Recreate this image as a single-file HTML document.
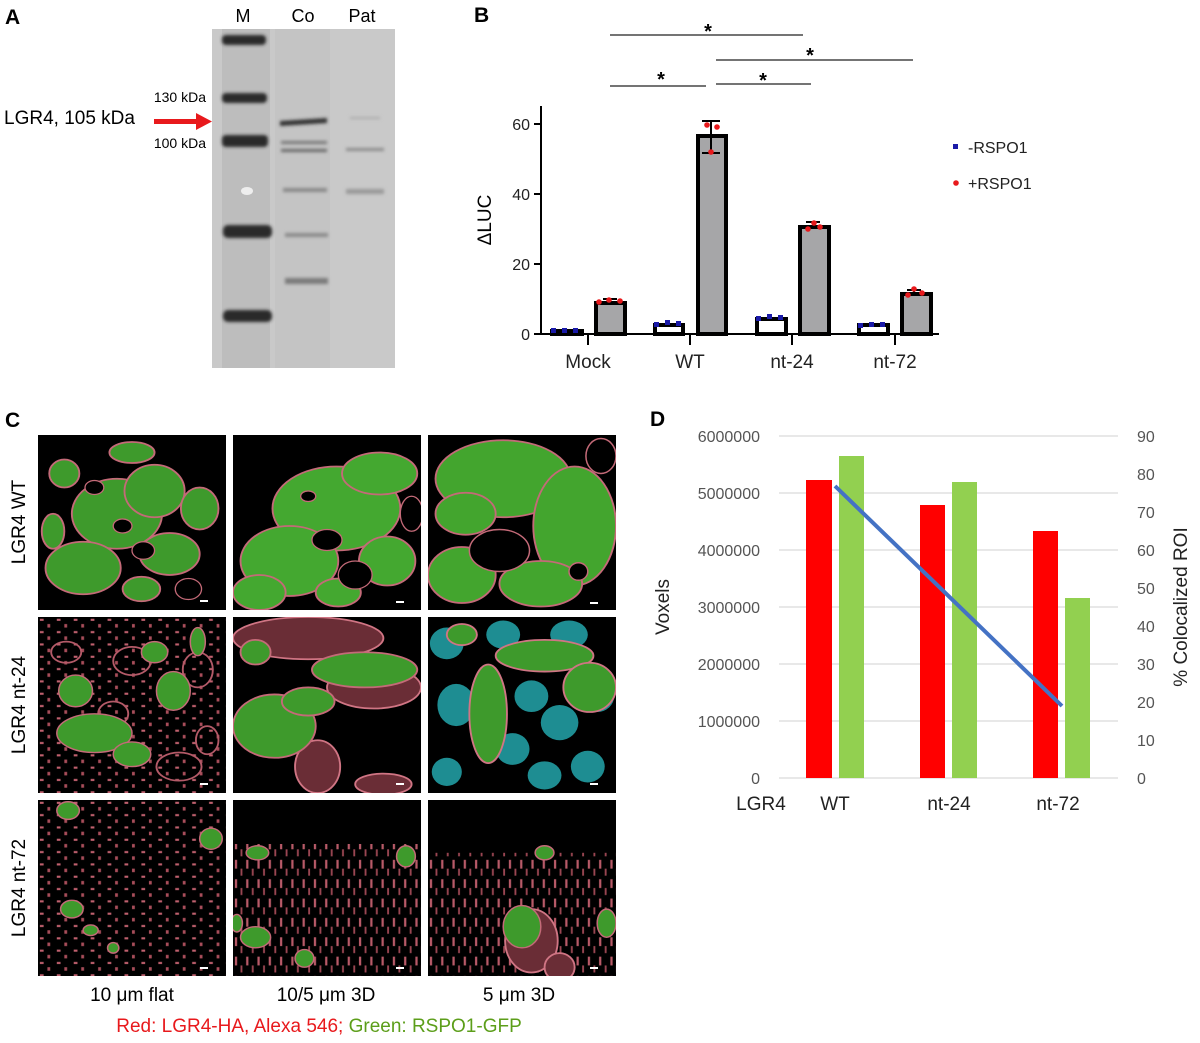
<!DOCTYPE html>
<html><head><meta charset="utf-8"><style>
html,body{margin:0;padding:0;background:#fff;}
svg{display:block;font-family:"Liberation Sans",Arial,sans-serif;}
</style></head><body>
<svg width="1200" height="1043" viewBox="0 0 1200 1043" xmlns="http://www.w3.org/2000/svg">
<defs>
<filter id="bl" x="-20%" y="-50%" width="140%" height="200%"><feGaussianBlur stdDeviation="1.5"/></filter>
<filter id="bl2"><feGaussianBlur stdDeviation="0.6"/></filter>
<pattern id="pk" width="9" height="7" patternUnits="userSpaceOnUse">
<rect width="9" height="7" fill="#000"/>
<rect x="1" y="1" width="2" height="1.2" fill="#c0606e"/><rect x="5" y="4" width="1.5" height="2" fill="#a84d5a"/>
</pattern>
<pattern id="pk2" width="6" height="11" patternUnits="userSpaceOnUse">
<rect width="6" height="11" fill="#000"/>
<rect x="1" y="1" width="1.2" height="5" fill="#b85a68"/><rect x="4" y="6" width="1" height="4" fill="#9a4652"/>
</pattern>
</defs>

<!-- Panel A -->
<text x="5" y="24" font-size="21" font-weight="bold">A</text>
<text x="243" y="22" font-size="18" text-anchor="middle">M</text>
<text x="303" y="22" font-size="18" text-anchor="middle">Co</text>
<text x="362" y="22" font-size="18" text-anchor="middle">Pat</text>
<rect x="212" y="29" width="183" height="339" fill="#c9c9c9"/>
<rect x="222" y="29" width="48" height="339" fill="#bdbdbd"/>
<rect x="275" y="29" width="55" height="339" fill="#c4c4c4"/>
<g fill="#2a2a2a" filter="url(#bl)">
<rect x="222" y="35" width="44" height="10" rx="4"/>
<rect x="222" y="93" width="45" height="10" rx="4"/>
<rect x="222" y="135" width="46" height="12" rx="4"/>
<rect x="223" y="225" width="49" height="13" rx="5"/>
<rect x="223" y="310" width="49" height="12" rx="5"/>
</g>
<ellipse cx="247" cy="191" rx="6" ry="4" fill="#eee"/>
<g filter="url(#bl)">
<path d="M280 121 L327 118 L327 123 L280 126Z" fill="#333"/>
<rect x="281" y="141" width="46" height="3" fill="#777"/>
<rect x="281" y="149" width="46" height="3" fill="#666"/>
<rect x="283" y="188" width="44" height="4" fill="#888"/>
<rect x="285" y="233" width="43" height="4" fill="#8a8a8a"/>
<rect x="285" y="278" width="43" height="6" fill="#7a7a7a"/>
<rect x="346" y="148" width="38" height="3" fill="#8a8a8a"/>
<rect x="346" y="189" width="38" height="5" fill="#999"/>
<rect x="350" y="117" width="30" height="2" fill="#aaa"/>
</g>
<text x="206" y="102" font-size="14" text-anchor="end">130 kDa</text>
<text x="206" y="148" font-size="14" text-anchor="end">100 kDa</text>
<text x="4" y="124" font-size="19">LGR4, 105 kDa</text>
<rect x="154" y="119" width="44" height="5" fill="#e8191c"/>
<polygon points="196,113 212,121.5 196,130" fill="#e8191c"/>

<!-- Panel B -->
<text x="474" y="22" font-size="21" font-weight="bold">B</text>
<g stroke="#222" stroke-width="1.2">
<line x1="610" y1="35" x2="803" y2="35"/>
<line x1="716" y1="60" x2="913" y2="60"/>
<line x1="610" y1="86" x2="706" y2="86"/>
<line x1="716" y1="84" x2="811" y2="84"/>
</g>
<g font-size="20" text-anchor="middle" font-weight="bold">
<text x="708" y="38">*</text><text x="810" y="62">*</text>
<text x="661" y="86">*</text><text x="763" y="87">*</text>
</g>
<g stroke="#000" stroke-width="2" fill="none">
<line x1="541" y1="106" x2="541" y2="334"/>
<line x1="540" y1="334" x2="939" y2="334"/>
<line x1="534" y1="124" x2="541" y2="124"/><line x1="534" y1="194" x2="541" y2="194"/>
<line x1="534" y1="264" x2="541" y2="264"/><line x1="534" y1="334" x2="541" y2="334"/>
<line x1="588" y1="334" x2="588" y2="345"/><line x1="690" y1="334" x2="690" y2="345"/>
<line x1="792" y1="334" x2="792" y2="345"/><line x1="895" y1="334" x2="895" y2="345"/>
</g>
<g font-size="16" fill="#222" text-anchor="end">
<text x="530" y="130">60</text><text x="530" y="200">40</text><text x="530" y="270">20</text><text x="530" y="340">0</text>
</g>
<text transform="translate(491,220) rotate(-90)" font-size="19" text-anchor="middle">ΔLUC</text>
<g font-size="19" text-anchor="middle" fill="#222">
<text x="588" y="368">Mock</text><text x="690" y="368">WT</text><text x="792" y="368">nt-24</text><text x="895" y="368">nt-72</text>
</g>
<g stroke="#000" stroke-width="4" fill="#fff">
<rect x="552" y="331" width="30" height="3"/>
<rect x="655" y="325" width="28" height="9"/>
<rect x="757" y="319" width="29" height="15"/>
<rect x="859" y="325" width="29" height="9"/>
</g>
<g stroke="#000" stroke-width="4" fill="#a6a6a8">
<rect x="596" y="303" width="29" height="31"/>
<rect x="698" y="136" width="28" height="198"/>
<rect x="800" y="227" width="29" height="107"/>
<rect x="902" y="294" width="29" height="40"/>
</g>
<g stroke="#000" stroke-width="2">
<line x1="711" y1="136" x2="711" y2="122"/><line x1="702" y1="121" x2="720" y2="121"/>
<line x1="711" y1="136" x2="711" y2="153"/><line x1="702" y1="153" x2="720" y2="153"/>
<line x1="813" y1="227" x2="813" y2="222"/><line x1="806" y1="222" x2="820" y2="222"/>
<line x1="914" y1="294" x2="914" y2="290"/><line x1="907" y1="290" x2="921" y2="290"/>
<line x1="610" y1="303" x2="610" y2="299"/><line x1="603" y1="299" x2="617" y2="299"/>
</g>
<g fill="#1a1aa8">
<rect x="551" y="328" width="5" height="5"/><rect x="562" y="328" width="5" height="5"/><rect x="573" y="328" width="5" height="5"/>
<rect x="654" y="322" width="5" height="5"/><rect x="665" y="320" width="5" height="5"/><rect x="676" y="321" width="5" height="5"/>
<rect x="756" y="316" width="5" height="5"/><rect x="767" y="314" width="5" height="5"/><rect x="778" y="315" width="5" height="5"/>
<rect x="858" y="323" width="5" height="5"/><rect x="869" y="322" width="5" height="5"/><rect x="880" y="322" width="5" height="5"/>
<rect x="953" y="144" width="5" height="5"/>
</g>
<g fill="#e8191c">
<circle cx="599" cy="302" r="2.8"/><circle cx="609" cy="300" r="2.8"/><circle cx="620" cy="301" r="2.8"/>
<circle cx="707" cy="125" r="2.8"/><circle cx="717" cy="127" r="2.8"/><circle cx="711" cy="152" r="2.8"/>
<circle cx="808" cy="229" r="2.8"/><circle cx="814" cy="223" r="2.8"/><circle cx="820" cy="227" r="2.8"/>
<circle cx="908" cy="295" r="2.8"/><circle cx="914" cy="289" r="2.8"/><circle cx="922" cy="293" r="2.8"/>
<circle cx="956" cy="183" r="2.8"/>
</g>
<text x="968" y="153" font-size="16" fill="#222">-RSPO1</text>
<text x="968" y="189" font-size="16" fill="#222">+RSPO1</text>

<!-- Panel C -->
<text x="5" y="427" font-size="21" font-weight="bold">C</text>
<g font-size="19" text-anchor="middle">
<text transform="translate(25,522) rotate(-90)">LGR4 WT</text>
<text transform="translate(25,705) rotate(-90)">LGR4 nt-24</text>
<text transform="translate(25,888) rotate(-90)">LGR4 nt-72</text>
</g>

<!-- r1c1 -->
<svg x="38" y="435" width="188" height="175" viewBox="0 0 100 100" preserveAspectRatio="none">
<rect width="100" height="100" fill="#000"/>
<g fill="#3e9a2c" stroke="#c46a78" stroke-width="1">
<ellipse cx="42" cy="45" rx="24" ry="20"/><ellipse cx="62" cy="32" rx="16" ry="15"/>
<ellipse cx="24" cy="76" rx="20" ry="15"/><ellipse cx="70" cy="68" rx="16" ry="12"/>
<ellipse cx="86" cy="42" rx="10" ry="12"/><ellipse cx="14" cy="22" rx="8" ry="8"/>
<ellipse cx="50" cy="10" rx="12" ry="6"/><ellipse cx="8" cy="55" rx="6" ry="10"/>
<ellipse cx="55" cy="88" rx="10" ry="7"/>
</g>
<g fill="#000" stroke="#c46a78" stroke-width="0.7">
<ellipse cx="45" cy="52" rx="5" ry="4"/><ellipse cx="56" cy="66" rx="6" ry="5"/><ellipse cx="30" cy="30" rx="5" ry="4"/><ellipse cx="80" cy="88" rx="7" ry="6"/>
</g>
</svg>
<!-- r1c2 -->
<svg x="233" y="435" width="188" height="175" viewBox="0 0 100 100" preserveAspectRatio="none">
<rect width="100" height="100" fill="#000"/>
<g fill="#44a830" stroke="#c46a78" stroke-width="1">
<ellipse cx="55" cy="42" rx="34" ry="24"/><ellipse cx="30" cy="72" rx="26" ry="20"/>
<ellipse cx="78" cy="22" rx="20" ry="12"/><ellipse cx="82" cy="72" rx="15" ry="14"/>
<ellipse cx="14" cy="90" rx="14" ry="10"/><ellipse cx="56" cy="90" rx="12" ry="8"/>
</g>
<g fill="#000" stroke="#c46a78" stroke-width="0.7">
<ellipse cx="50" cy="60" rx="8" ry="6"/><ellipse cx="65" cy="80" rx="9" ry="8"/><ellipse cx="40" cy="35" rx="4" ry="3"/><ellipse cx="95" cy="45" rx="6" ry="10"/>
</g>
</svg>
<!-- r1c3 -->
<svg x="428" y="435" width="188" height="175" viewBox="0 0 100 100" preserveAspectRatio="none">
<rect width="100" height="100" fill="#000"/>
<g fill="#43a52e" stroke="#c46a78" stroke-width="1">
<ellipse cx="40" cy="25" rx="36" ry="22"/><ellipse cx="78" cy="52" rx="22" ry="34"/>
<ellipse cx="18" cy="80" rx="18" ry="16"/><ellipse cx="60" cy="85" rx="22" ry="13"/>
<ellipse cx="20" cy="45" rx="16" ry="12"/>
</g>
<g fill="#000" stroke="#c46a78" stroke-width="0.8">
<ellipse cx="38" cy="66" rx="16" ry="12"/><ellipse cx="92" cy="12" rx="8" ry="10"/><ellipse cx="80" cy="78" rx="5" ry="5"/>
</g>
</svg>
<!-- r2c1 -->
<svg x="38" y="617" width="188" height="176" viewBox="0 0 100 100" preserveAspectRatio="none">
<rect width="100" height="100" fill="url(#pk)"/>
<g fill="none" stroke="#b45a68" stroke-width="1">
<ellipse cx="15" cy="20" rx="8" ry="6"/><ellipse cx="50" cy="25" rx="10" ry="8"/><ellipse cx="85" cy="30" rx="8" ry="10"/>
<ellipse cx="75" cy="85" rx="12" ry="8"/><ellipse cx="40" cy="55" rx="8" ry="7"/><ellipse cx="90" cy="70" rx="6" ry="8"/>
</g>
<g fill="#3e9a2c" stroke="#c46a78" stroke-width="0.8">
<ellipse cx="20" cy="42" rx="9" ry="9"/><ellipse cx="30" cy="66" rx="20" ry="11"/><ellipse cx="50" cy="78" rx="10" ry="7"/>
<ellipse cx="72" cy="42" rx="9" ry="11"/><ellipse cx="62" cy="20" rx="7" ry="6"/><ellipse cx="85" cy="14" rx="4" ry="8"/>
</g>
</svg>
<!-- r2c2 -->
<svg x="233" y="617" width="188" height="176" viewBox="0 0 100 100" preserveAspectRatio="none">
<rect width="100" height="100" fill="#000"/>
<g fill="#6a2d36" stroke="#d07584" stroke-width="1">
<ellipse cx="40" cy="12" rx="40" ry="12"/><ellipse cx="75" cy="40" rx="25" ry="12"/><ellipse cx="45" cy="85" rx="12" ry="15"/><ellipse cx="80" cy="95" rx="15" ry="6"/>
</g>
<g fill="#3e9a2c" stroke="#c46a78" stroke-width="1">
<ellipse cx="70" cy="30" rx="28" ry="10"/><ellipse cx="22" cy="62" rx="22" ry="18"/><ellipse cx="40" cy="48" rx="14" ry="8"/><ellipse cx="12" cy="20" rx="8" ry="7"/>
</g>
</svg>
<!-- r2c3 -->
<svg x="428" y="617" width="188" height="176" viewBox="0 0 100 100" preserveAspectRatio="none">
<rect width="100" height="100" fill="#000"/>
<g fill="#1e8d92">
<ellipse cx="10" cy="15" rx="9" ry="9"/><ellipse cx="40" cy="10" rx="9" ry="8"/><ellipse cx="75" cy="10" rx="10" ry="8"/>
<ellipse cx="15" cy="50" rx="10" ry="12"/><ellipse cx="55" cy="45" rx="9" ry="9"/><ellipse cx="90" cy="45" rx="9" ry="9"/>
<ellipse cx="70" cy="60" rx="10" ry="10"/><ellipse cx="45" cy="75" rx="9" ry="9"/><ellipse cx="85" cy="85" rx="9" ry="9"/>
<ellipse cx="10" cy="88" rx="8" ry="8"/><ellipse cx="62" cy="90" rx="9" ry="8"/>
</g>
<g fill="#3e9a2c" stroke="#d07584" stroke-width="1">
<ellipse cx="62" cy="22" rx="26" ry="9"/><ellipse cx="32" cy="55" rx="10" ry="28"/><ellipse cx="86" cy="40" rx="14" ry="14"/><ellipse cx="18" cy="10" rx="8" ry="6"/>
</g>
</svg>
<!-- r3c1 -->
<svg x="38" y="800" width="188" height="176" viewBox="0 0 100 100" preserveAspectRatio="none">
<rect width="100" height="100" fill="url(#pk)"/>
<g fill="#3e9a2c" stroke="#c46a78" stroke-width="0.8">
<ellipse cx="16" cy="6" rx="6" ry="5"/><ellipse cx="92" cy="22" rx="6" ry="6"/><ellipse cx="18" cy="62" rx="6" ry="5"/><ellipse cx="28" cy="74" rx="4" ry="3"/><ellipse cx="40" cy="84" rx="3" ry="3"/>
</g>
</svg>
<!-- r3c2 -->
<svg x="233" y="800" width="188" height="176" viewBox="0 0 100 100" preserveAspectRatio="none">
<rect width="100" height="100" fill="#000"/>
<rect y="25" width="100" height="75" fill="url(#pk2)"/>
<g fill="#3e9a2c" stroke="#c46a78" stroke-width="0.8">
<ellipse cx="13" cy="30" rx="6" ry="4"/><ellipse cx="92" cy="32" rx="5" ry="6"/><ellipse cx="12" cy="78" rx="8" ry="6"/><ellipse cx="38" cy="90" rx="5" ry="5"/><ellipse cx="2" cy="70" rx="3" ry="5"/>
</g>
</svg>
<!-- r3c3 -->
<svg x="428" y="800" width="188" height="176" viewBox="0 0 100 100" preserveAspectRatio="none">
<rect width="100" height="100" fill="#000"/>
<rect y="30" width="100" height="70" fill="url(#pk2)"/>
<g fill="#6a2d36" stroke="#d07584" stroke-width="1">
<ellipse cx="55" cy="80" rx="14" ry="18"/><ellipse cx="70" cy="95" rx="8" ry="8"/>
</g>
<g fill="#3e9a2c" stroke="#c46a78" stroke-width="0.8">
<ellipse cx="50" cy="72" rx="10" ry="12"/><ellipse cx="95" cy="70" rx="5" ry="8"/><ellipse cx="62" cy="30" rx="5" ry="4"/>
</g>
</svg>
<g fill="#fff">
<rect x="200" y="600" width="8" height="2"/><rect x="396" y="601" width="8" height="2"/><rect x="590" y="602" width="8" height="2"/>
<rect x="200" y="783" width="8" height="2"/><rect x="396" y="783" width="8" height="2"/><rect x="590" y="783" width="8" height="2"/>
<rect x="200" y="967" width="8" height="2"/><rect x="396" y="967" width="8" height="2"/><rect x="590" y="967" width="8" height="2"/>
</g>
<g font-size="19" text-anchor="middle">
<text x="132" y="1001">10 μm flat</text><text x="326" y="1001">10/5 μm 3D</text><text x="519" y="1001">5 μm 3D</text>
</g>
<text x="319" y="1032" font-size="19" text-anchor="middle"><tspan fill="#e8191c">Red: LGR4-HA, Alexa 546;</tspan><tspan fill="#5c9e1a"> Green: RSPO1-GFP</tspan></text>

<!-- Panel D -->
<text x="650" y="426" font-size="21" font-weight="bold">D</text>
<g stroke="#d9d9d9" stroke-width="1.2">
<line x1="779" y1="436" x2="1118" y2="436"/><line x1="779" y1="493" x2="1118" y2="493"/>
<line x1="779" y1="550" x2="1118" y2="550"/><line x1="779" y1="607" x2="1118" y2="607"/>
<line x1="779" y1="664" x2="1118" y2="664"/><line x1="779" y1="721" x2="1118" y2="721"/>
<line x1="779" y1="778" x2="1118" y2="778"/>
</g>
<g font-size="16" fill="#555" text-anchor="end">
<text x="760" y="442">6000000</text><text x="760" y="499">5000000</text><text x="760" y="556">4000000</text>
<text x="760" y="613">3000000</text><text x="760" y="670">2000000</text><text x="760" y="727">1000000</text><text x="760" y="784">0</text>
</g>
<g font-size="16" fill="#555">
<text x="1137" y="442">90</text><text x="1137" y="480">80</text><text x="1137" y="518">70</text><text x="1137" y="556">60</text>
<text x="1137" y="594">50</text><text x="1137" y="632">40</text><text x="1137" y="670">30</text><text x="1137" y="708">20</text>
<text x="1137" y="746">10</text><text x="1137" y="784">0</text>
</g>
<g fill="#ff0000">
<rect x="806" y="480" width="26" height="298"/><rect x="920" y="505" width="25" height="273"/><rect x="1033" y="531" width="25" height="247"/>
</g>
<g fill="#92d050">
<rect x="839" y="456" width="25" height="322"/><rect x="952" y="482" width="25" height="296"/><rect x="1065" y="598" width="25" height="180"/>
</g>
<line x1="835" y1="486" x2="1062" y2="706" stroke="#4472c4" stroke-width="4"/>
<text transform="translate(669,607) rotate(-90)" font-size="19" text-anchor="middle" fill="#222">Voxels</text>
<text transform="translate(1187,607) rotate(-90)" font-size="19" text-anchor="middle" fill="#222">% Colocalized ROI</text>
<g font-size="19" text-anchor="middle" fill="#222">
<text x="761" y="810">LGR4</text><text x="835" y="810">WT</text><text x="949" y="810">nt-24</text><text x="1058" y="810">nt-72</text>
</g>
</svg>
</body></html>
